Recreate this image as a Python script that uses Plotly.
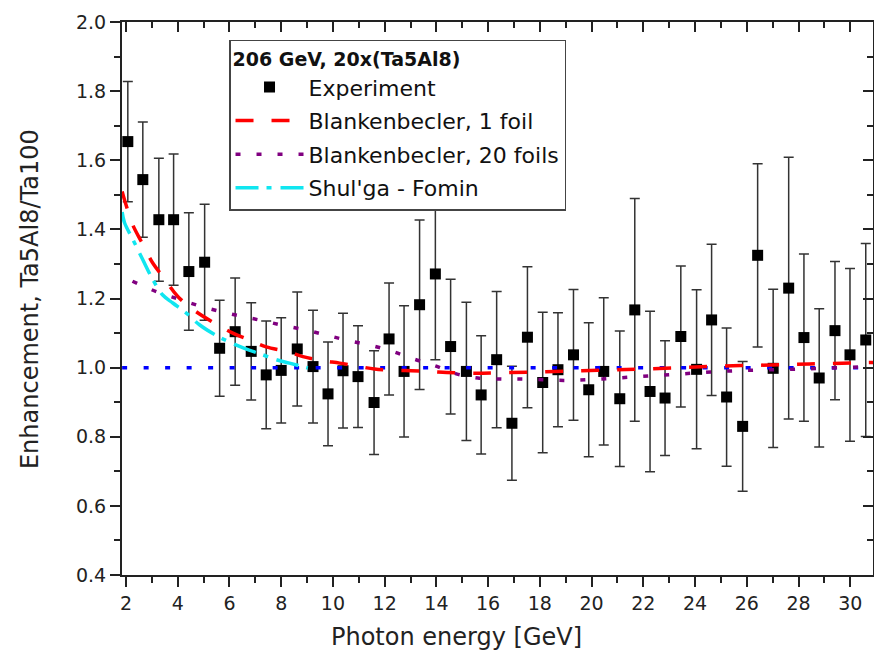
import plotly.graph_objects as go

# ---- data ----
energy = [2.07, 2.65, 3.27, 3.84, 4.43, 5.04, 5.62, 6.22, 6.84, 7.42, 8.00, 8.62, 9.23,
          9.81, 10.39, 10.97, 11.59, 12.17, 12.75, 13.35, 13.96, 14.55, 15.16, 15.73,
          16.33, 16.92, 17.52, 18.11, 18.70, 19.30, 19.89, 20.47, 21.09, 21.67, 22.26,
          22.84, 23.45, 24.06, 24.64, 25.22, 25.84, 26.42, 27.02, 27.62, 28.21, 28.80,
          29.41, 29.99, 30.60]
enhancement = [1.654, 1.544, 1.428, 1.428, 1.278, 1.305, 1.056, 1.104, 1.047, 0.979,
               0.992, 1.054, 1.003, 0.924, 0.991, 0.974, 0.899, 1.083, 0.989, 1.182,
               1.271, 1.061, 0.989, 0.921, 1.023, 0.839, 1.088, 0.957, 0.994, 1.037,
               0.936, 0.989, 0.910, 1.167, 0.931, 0.912, 1.090, 0.995, 1.138, 0.915,
               0.830, 1.325, 0.998, 1.230, 1.087, 0.970, 1.107, 1.037, 1.080]
enh_err = [0.174, 0.167, 0.178, 0.19, 0.17, 0.168, 0.139, 0.155, 0.141, 0.156,
           0.152, 0.165, 0.163, 0.15, 0.166, 0.147, 0.15, 0.162, 0.19, 0.245,
           0.248, 0.195, 0.2, 0.171, 0.197, 0.165, 0.204, 0.203, 0.165, 0.189,
           0.194, 0.213, 0.196, 0.322, 0.232, 0.166, 0.204, 0.23, 0.219, 0.2,
           0.188, 0.265, 0.229, 0.379, 0.242, 0.2, 0.2, 0.25, 0.279]

b1_x = [1.85, 2.0, 2.26, 2.59, 3.04, 3.42, 4.0, 4.71, 5.49, 6.13, 6.84, 7.42, 8.26, 8.84,
        9.61, 10.26, 11.03, 11.61, 12.45, 13.03, 13.74, 14.39, 15.22, 15.8, 16.87, 18.23,
        19.62, 20.99, 22.39, 23.76, 25.15, 26.55, 27.93, 29.28, 30.88]
b1_y = [1.51, 1.471, 1.413, 1.365, 1.302, 1.264, 1.206, 1.162, 1.126, 1.10, 1.078, 1.06,
        1.046, 1.032, 1.02, 1.013, 1.003, 0.996, 0.992, 0.991, 0.989, 0.986, 0.984, 0.984,
        0.986, 0.988, 0.991, 0.994, 0.997, 1.001, 1.005, 1.007, 1.01, 1.012, 1.015]

b20_x = [2.25, 3.17, 4.0, 4.82, 5.66, 6.5, 7.33, 8.13, 9.0, 9.8, 10.62, 11.48, 12.3, 13.12,
         13.96, 14.77, 15.61, 16.45, 17.25, 18.1, 18.93, 19.75, 20.58, 21.41, 22.25, 23.08,
         23.93, 24.73, 25.57, 26.38, 27.22, 28.05, 28.87, 29.73, 30.54, 30.88]
b20_y = [1.25, 1.22, 1.199, 1.179, 1.162, 1.148, 1.135, 1.121, 1.108, 1.093, 1.078, 1.064,
         1.047, 1.025, 1.005, 0.982, 0.97, 0.967, 0.967, 0.965, 0.963, 0.965, 0.968, 0.972,
         0.976, 0.98, 0.984, 0.988, 0.991, 0.993, 0.994, 0.996, 0.998, 1.0, 1.003, 1.004]

sf_x = [1.85, 1.94, 2.27, 2.65, 3.04, 3.42, 3.81, 4.33, 4.84, 5.49, 6.0, 6.58, 7.29, 7.81,
        8.32, 9.03]
sf_y = [1.45, 1.42, 1.37, 1.312, 1.254, 1.21, 1.187, 1.158, 1.124, 1.093, 1.074, 1.056,
        1.037, 1.023, 1.013, 0.999]

ref_x = [1.85, 30.88]
ref_y = [1.0, 1.0]

x_range = [1.845, 30.88]
y_range = [0.4, 2.0]

FONT = "DejaVu Sans"
AX = "#222222"

fig = go.Figure()

fig.add_trace(go.Scatter(
    x=energy, y=enhancement, mode="markers", name="Experiment", legendgroup="a",
    marker=dict(symbol="square", size=11, color="black"),
    error_y=dict(type="data", array=enh_err, visible=True, color="#333333",
                 thickness=1.5, width=5)))

fig.add_trace(go.Scatter(
    x=ref_x, y=ref_y, mode="lines", showlegend=False, legendgroup="z",
    line=dict(color="#0000ff", width=3.5, dash="5px,16.5px")))

fig.add_trace(go.Scatter(
    x=b1_x, y=b1_y, mode="lines", name="Blankenbecler, 1 foil", legendgroup="b",
    line=dict(color="#ff0000", width=3.5, dash="18px,18px", shape="spline")))

fig.add_trace(go.Scatter(
    x=b20_x, y=b20_y, mode="lines", name="Blankenbecler, 20 foils", legendgroup="c",
    line=dict(color="#800080", width=3.5, dash="5px,16px", shape="spline")))

fig.add_trace(go.Scatter(
    x=sf_x, y=sf_y, mode="lines", name="Shul'ga - Fomin", legendgroup="d",
    line=dict(color="#10e6f0", width=3.5, dash="23px,8px,5px,9px", shape="spline")))

# dummy trace for mirrored (inside) top/right axes
fig.add_trace(go.Scatter(x=[], y=[], xaxis="x2", yaxis="y2", showlegend=False,
                         legendgroup="z", hoverinfo="skip"))

tickfont = dict(family=FONT, size=19, color=AX)

fig.update_layout(
    width=874, height=654,
    margin=dict(l=122, r=1, t=22, b=79),
    paper_bgcolor="white", plot_bgcolor="white",
    font=dict(family=FONT, color=AX),
    xaxis=dict(range=x_range, showgrid=False, zeroline=False,
               showline=True, linecolor=AX, linewidth=2,
               ticks="outside", ticklen=10, tickwidth=2, tickcolor=AX,
               tick0=2, dtick=2, tickfont=tickfont,
               minor=dict(dtick=1, ticks="outside", ticklen=6, tickwidth=1.5,
                          tickcolor=AX, showgrid=False)),
    yaxis=dict(range=y_range, showgrid=False, zeroline=False,
               showline=True, linecolor=AX, linewidth=2,
               ticks="outside", ticklen=10, tickwidth=2, tickcolor=AX,
               tick0=0.4, dtick=0.2, tickformat=".1f", tickfont=tickfont,
               minor=dict(dtick=0.1, ticks="outside", ticklen=6, tickwidth=1.5,
                          tickcolor=AX, showgrid=False)),
    xaxis2=dict(range=x_range, overlaying="x", side="top", anchor="y",
                showgrid=False, zeroline=False, showline=True, linecolor=AX,
                linewidth=2, ticks="inside", ticklen=10, tickwidth=2, tickcolor=AX,
                tick0=2, dtick=2, showticklabels=False,
                minor=dict(dtick=1, ticks="inside", ticklen=6, tickwidth=1.5,
                           tickcolor=AX, showgrid=False)),
    yaxis2=dict(range=y_range, overlaying="y", side="right", anchor="x",
                showgrid=False, zeroline=False, showline=True, linecolor=AX,
                linewidth=2, ticks="inside", ticklen=10, tickwidth=2, tickcolor=AX,
                tick0=0.4, dtick=0.2, showticklabels=False,
                minor=dict(dtick=0.1, ticks="inside", ticklen=6, tickwidth=1.5,
                           tickcolor=AX, showgrid=False)),
    legend=dict(x=0.1425, y=0.9675, xanchor="left", yanchor="top",
                bgcolor="white", bordercolor="#444444", borderwidth=1.5,
                font=dict(family=FONT, size=22, color="#111111"),
                title=dict(text="<b>206 GeV, 20x(Ta5Al8)</b>",
                           font=dict(family=FONT, size=19, color="#111111")),
                itemwidth=68, tracegroupgap=2, traceorder="grouped"),
    annotations=[
        dict(text="Photon energy [GeV]", xref="paper", yref="paper",
             x=0.4454, y=-0.112, xanchor="center", yanchor="middle",
             showarrow=False, font=dict(family=FONT, size=24, color="#222222")),
        dict(text="Enhancement, Ta5Al8/Ta100", xref="paper", yref="paper",
             x=-0.1225, y=0.499, xanchor="center", yanchor="middle", textangle=-90,
             showarrow=False, font=dict(family=FONT, size=24, color="#222222")),
    ],
)

fig.write_html("out.html")
